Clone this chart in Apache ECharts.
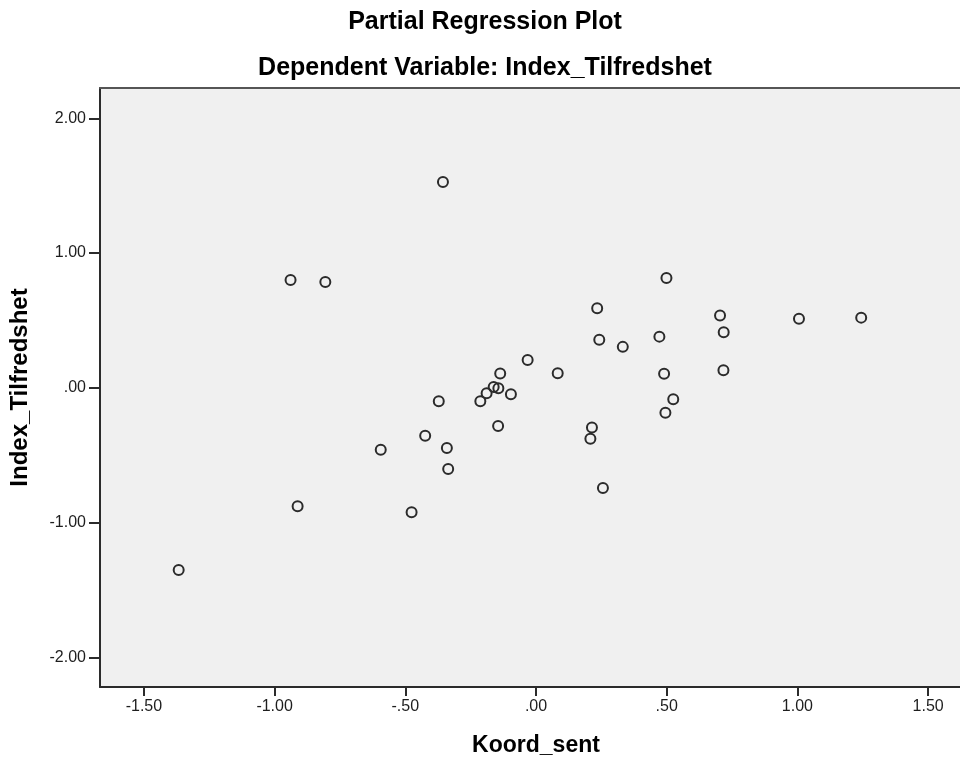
<!DOCTYPE html>
<html>
<head>
<meta charset="utf-8">
<script src="https://cdn.jsdelivr.net/npm/echarts@6/dist/echarts.min.js"></script>
<style>
  html, body { margin: 0; padding: 0; background: #ffffff; }
  #chart { width: 960px; height: 766px; }
</style>
</head>
<body>
<div id="chart"></div>
<script>
// Partial regression residuals: Koord_sent (x) vs Index_Tilfredshet (y)
const koordSent = [
  -1.367, -0.939, -0.806, -0.912, -0.356, -0.594, -0.476, -0.424, -0.372,
  -0.341, -0.336, -0.213, -0.189, -0.162, -0.144, -0.137, -0.096, -0.145,
  -0.032, 0.083, 0.214, 0.208, 0.234, 0.242, 0.256, 0.332, 0.472, 0.490,
  0.499, 0.495, 0.525, 0.704, 0.718, 0.717, 1.006, 1.244
];
const indexTilfredshet = [
  -1.351, 0.800, 0.785, -0.879, 1.528, -0.459, -0.924, -0.356, -0.100,
  -0.447, -0.603, -0.099, -0.040, 0.007, -0.003, 0.106, -0.047, -0.284,
  0.207, 0.108, -0.294, -0.378, 0.590, 0.356, -0.744, 0.304, 0.380, 0.104,
  0.815, -0.185, -0.084, 0.536, 0.412, 0.130, 0.513, 0.521
];
const xTicks = [-1.5, -1.0, -0.5, 0, 0.5, 1.0, 1.5];
const yTicks = [-2, -1, 0, 1, 2];

const titleText = 'Partial Regression Plot';
const subtitleText = 'Dependent Variable: Index_Tilfredshet';
const xName = 'Koord_sent';
const yName = 'Index_Tilfredshet';

// SPSS-style number labels: two decimals, no leading zero
function fmt(v) {
  const s = Math.abs(v).toFixed(2).replace(/^0\./, '.');
  return (v < 0 ? '-' : '') + s;
}

const points = koordSent.map((x, i) => [x, indexTilfredshet[i]]);
const FONT = '"Liberation Sans", Arial, sans-serif';
const AXIS_COLOR = '#2b2b2b';

const chart = echarts.init(document.getElementById('chart'), null, { renderer: 'canvas' });
chart.setOption({
  animation: false,
  backgroundColor: '#ffffff',
  textStyle: { fontFamily: FONT },
  graphic: [
    {
      type: 'text',
      x: 485, y: 22,
      style: { text: titleText, font: 'bold 25px ' + FONT, fill: '#000', textAlign: 'center', textVerticalAlign: 'middle' }
    },
    {
      type: 'text',
      x: 485, y: 68,
      style: { text: subtitleText, font: 'bold 25px ' + FONT, fill: '#000', textAlign: 'center', textVerticalAlign: 'middle' }
    }
  ],
  grid: {
    left: 100, top: 88, right: 0, bottom: 79,
    show: true, backgroundColor: '#f0f0f0', borderWidth: 0
  },
  xAxis: [
    {
      type: 'value', position: 'bottom',
      min: -1.668, max: 1.622,
      name: xName, nameLocation: 'middle', nameGap: 47,
      nameTextStyle: { fontFamily: FONT, fontWeight: 'bold', fontSize: 23, color: '#000', padding: [0, 0, 0, 12] },
      splitLine: { show: false },
      axisLine: { show: true, onZero: false, lineStyle: { color: AXIS_COLOR, width: 2 } },
      axisTick: { show: true, customValues: xTicks, length: 9, lineStyle: { color: AXIS_COLOR, width: 2 } },
      axisLabel: { show: true, customValues: xTicks, formatter: fmt, margin: 12, fontSize: 16, color: '#1e1e1e', fontFamily: FONT }
    },
    {
      type: 'value', position: 'top',
      min: -1.668, max: 1.622,
      splitLine: { show: false },
      axisLine: { show: true, onZero: false, lineStyle: { color: '#555', width: 2 } },
      axisTick: { show: false },
      axisLabel: { show: false }
    }
  ],
  yAxis: {
    type: 'value',
    min: -2.22, max: 2.225,
    name: yName, nameLocation: 'middle', nameGap: 68, nameRotate: 90,
    nameTextStyle: { fontFamily: FONT, fontWeight: 'bold', fontSize: 24, color: '#000' },
    splitLine: { show: false },
    axisLine: { show: true, onZero: false, lineStyle: { color: AXIS_COLOR, width: 2 } },
    axisTick: { show: true, customValues: yTicks, length: 11, lineStyle: { color: AXIS_COLOR, width: 2 } },
    axisLabel: { show: true, customValues: yTicks, formatter: fmt, margin: 14, fontSize: 16, color: '#1e1e1e', fontFamily: FONT }
  },
  series: [{
    type: 'scatter',
    xAxisIndex: 0,
    data: points,
    symbol: 'circle',
    symbolSize: 10,
    itemStyle: { color: 'rgba(0,0,0,0)', borderColor: '#2b2b2b', borderWidth: 2, opacity: 1 },
    emphasis: { disabled: true }
  }]
});
</script>
</body>
</html>
